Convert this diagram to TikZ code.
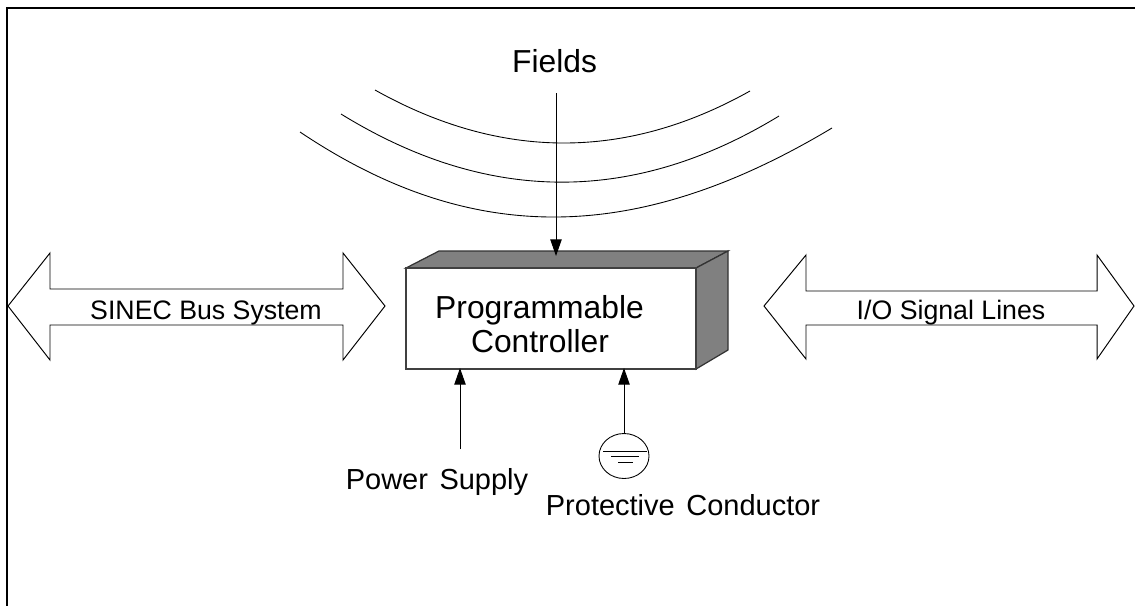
\documentclass[tikz,border=0pt]{standalone}
\usepackage{fontspec}
\setmainfont{Liberation Sans}
\usetikzlibrary{arrows.meta,shapes.geometric}
\definecolor{shade}{RGB}{128,128,128}
\tikzset{
  frameline/.style={line width=0.8pt, draw=black},
  outline/.style={line width=0.55pt, draw=black, line join=miter},
  wave/.style={line width=0.5pt, draw=black},
  feed/.style={-{Triangle[length=9.5pt,width=6.5pt]}, line width=0.55pt, draw=black},
  unit/.style={rectangle, line width=0.8pt, draw=black!75, fill=white, minimum width=5.8cm, minimum height=2.02cm, inner sep=0pt},
  face/.style={line width=0.7pt, draw=black!80, fill=shade},
  earth/.style={ellipse, line width=0.5pt, draw=black, minimum width=1cm, minimum height=0.9cm, inner sep=0pt},
  bigtxt/.style={font=\fontsize{18.1}{19.3}\selectfont, inner sep=0pt, anchor=base, align=center},
  midtxt/.style={font=\fontsize{16.5}{19}\selectfont, inner sep=0pt, anchor=base},
  bustxt/.style={font=\fontsize{15.2}{18}\selectfont, inner sep=0pt, anchor=base}
}
\begin{document}
\begin{tikzpicture}[x=0.02cm,y=-0.02cm]
  \useasboundingbox (0,0) rectangle (1135,606);
  % frame, open at the right and at the bottom
  \draw[frameline] (1135,8) -- (7,8) -- (7,606);

  % Field lines
  \draw[wave] (375,90) .. controls (500,160) and (625,161) .. (750,91);
  \draw[wave] (341,114) .. controls (487,204) and (633,205) .. (779,116);
  \draw[wave] (300,132) .. controls (470,246) and (635,246) .. (832,128);

  % Controller box
  \draw[face] (406,268) -- (439,251) -- (728,251) -- (696,268) -- cycle;
  \draw[face] (696,268) -- (728,251) -- (728,350) -- (696,369) -- cycle;
  \node[unit] (plc) at (551,318.5) {};
  \node[bigtxt] (plctxt) at (539.5,318) {Programmable};
  \node[bigtxt] (plctxt2) at (540,352) {Controller};

  % Bus arrows
  \draw[outline] (50,289) -- (50,253) -- (8,306) -- (50,360) -- (50,325) -- (343,325) -- (343,360) -- (385,306) -- (343,253) -- (343,289) -- cycle;
  \draw[outline] (806,291) -- (806,255) -- (764,306) -- (806,359) -- (806,325) -- (1097,325) -- (1097,359) -- (1134,306) -- (1097,255) -- (1097,291) -- cycle;
  \node[bustxt] (bus) at (206,319) {SINEC Bus System};
  \node[bustxt] (sig) at (951,319) {I/O Signal Lines};

  % Inputs to the box
  \node[bigtxt] (fields) at (554.5,72) {Fields};
  \coordinate (fieldsfrom) at (556,93);
  \coordinate (fieldsto) at (556,256);
  \draw[feed] (fieldsfrom) -- (fieldsto);

  \node[midtxt] (power) at (437,489) {Power\hspace{2pt} Supply};
  \coordinate (powerfrom) at (460,449);
  \coordinate (powerto) at (460,368);
  \draw[feed] (powerfrom) -- (powerto);

  \node[earth] (gnd) at (624,456) {};
  \coordinate (gndto) at (624,368);
  \draw[feed] (gnd.north) -- (gndto);
  \draw[wave] (603,451) -- (647,451);
  \draw[wave] (611,456) -- (639,456);
  \draw[wave] (618,462) -- (633,462);
  \node[midtxt] (cond) at (683,515) {Protective\hspace{2pt} Conductor};
\end{tikzpicture}
\end{document}
